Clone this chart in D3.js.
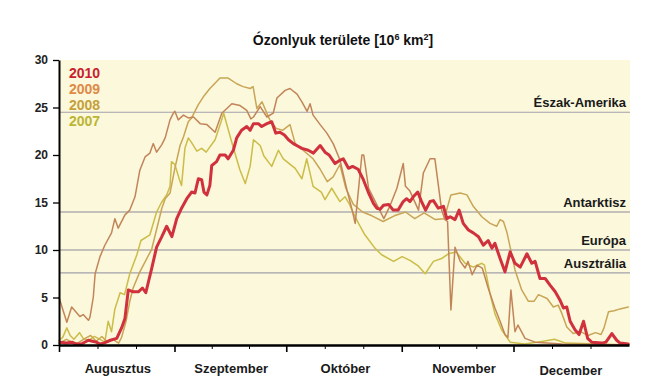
<!DOCTYPE html>
<html><head><meta charset="utf-8">
<script src="https://cdn.jsdelivr.net/npm/d3@7/dist/d3.min.js"></script>
<style>
html,body{margin:0;padding:0;background:#fff;}
svg{display:block;font-family:"Liberation Sans",Arial,Helvetica,sans-serif;}
</style></head><body>
<svg id="chart" width="671" height="383"></svg>
<script>
// ---- data (day index from 1 August, value in million km2) ----
const years = ["2010", "2009", "2008", "2007"];
const yearColors = ["#d0313d", "#c2855a", "#c9a556", "#cbbd48"];
const legendColors = ["#c8202f", "#df8a46", "#c6a03a", "#bcb534"];

const s2010 = [[0.3,0.3],[2,0.2],[3.5,0.3],[4.5,0.1],[6,0.1],[7.9,0.5],[9,0.4],[10,0.3],[11,0.1],[12,0.2],[13.8,0.5],[15.5,0.7],[16.8,1.8],[17.7,2.8],[18.6,5.8],[19.9,5.6],[21.3,5.6],[22.4,6.0],[23.3,5.5],[24.9,8.1],[26.2,10.3],[27.6,11.4],[28.9,12.5],[30.3,11.4],[31.6,13.3],[32.9,14.4],[34.3,15.4],[35.6,16.1],[36.5,16.0],[37.4,17.5],[38.3,17.4],[38.9,16.1],[39.7,15.8],[40.5,16.8],[41,18.9],[42.3,19.3],[43.2,20.0],[44.6,20.0],[45.4,19.6],[46.8,20.5],[47.7,21.8],[49,22.6],[50.4,23.0],[51.3,22.6],[52.2,23.3],[53.5,23.3],[54.4,23.0],[55.8,23.3],[57.1,23.5],[58.2,22.3],[59.3,22.4],[60.5,22.1],[61.6,21.6],[62.9,21.2],[63.8,21.0],[65.2,20.7],[66.9,20.5],[68.3,20.2],[70.1,21.0],[71.4,20.3],[72.5,20.0],[74.1,19.1],[75.2,19.4],[76.3,19.6],[77.7,18.6],[78.8,18.8],[80.3,18.5],[81.7,17.4],[83,16.1],[84.4,14.9],[85.3,14.4],[86.2,14.3],[87.1,14.7],[88.5,14.8],[89.7,14.2],[91,14.2],[92.4,15.1],[93.3,15.4],[94.2,15.1],[95.1,15.6],[96.3,16.1],[97.2,15.2],[98.4,14.2],[99.6,15.1],[100.5,15.2],[101.8,14.4],[103.2,14.6],[104.1,13.3],[105,13.5],[106.3,13.2],[107.4,14.2],[108.5,12.8],[109.9,12.1],[111.2,11.8],[112.6,11.4],[113.9,10.5],[114.4,10.7],[115.2,11.0],[116.2,10.2],[117,10.7],[118.4,9.1],[119.7,7.7],[121.1,9.8],[122.4,8.6],[123.8,8.2],[125.6,9.6],[126.9,8.6],[127.8,8.8],[129.1,7.0],[130.5,7.0],[131.8,6.3],[133.2,5.6],[134.5,4.7],[135.4,3.9],[136.3,4.0],[137.2,2.5],[138.5,1.6],[139.6,1.1],[140.8,2.5],[141.9,0.7],[143,0.3],[145.7,0.2],[146.8,0.3],[148.4,1.2],[149.7,0.5],[150.6,0.2],[152.8,0.1]];

const s2009 = [[0,5.0],[2.1,2.4],[3.4,4.0],[5.6,3.0],[6.5,3.2],[7.9,2.6],[8.3,2.9],[9.2,5.0],[9.7,7.5],[11,9.3],[12.3,10.5],[14.1,11.8],[15,13.3],[15.9,12.3],[17.7,13.7],[19,14.2],[20.4,15.6],[21.7,18.4],[23.1,19.8],[24.4,20.2],[25.3,21.2],[26.2,20.3],[27.6,21.1],[28.5,21.8],[29.8,23.7],[30.7,24.4],[31.1,24.6],[32,23.7],[33.4,24.2],[34.7,23.9],[36.1,24.0],[37.9,23.3],[39.7,23.2],[41.9,22.4],[43.7,24.4],[46.4,25.4],[48.6,25.2],[50.4,24.7],[51.5,23.8],[52.2,24.0],[54,25.1],[55.8,24.0],[57.5,24.4],[58.5,26.0],[60.7,26.8],[62,27.0],[63.9,26.4],[65.2,25.6],[66.6,24.6],[67.4,25.4],[68.2,24.2],[70.1,23.2],[71.9,22.3],[73.6,21.2],[75.4,19.5],[77.3,16.3],[78.7,14.2],[79.5,12.8],[81.3,20.0],[81.8,20.0],[83.1,16.5],[85.4,14.7],[87.2,13.3],[88.9,14.7],[90.7,16.5],[92.4,19.1],[93,16.7],[94.2,16.2],[96.5,14.2],[97.8,18.1],[99.6,19.6],[100.9,19.6],[102.7,14.2],[103.6,13.2],[104.3,13.0],[105.2,3.7],[106.3,10.3],[107.7,8.8],[109,8.1],[109.8,8.8],[110.9,7.4],[112.2,8.4],[113.6,8.1],[115.2,6.0],[117,3.9],[118.4,2.5],[119.7,1.1],[120.5,0.8],[121.3,5.8],[122.4,1.4],[123.2,2.1],[125.1,0.7],[127.8,0.3],[135,0.1],[152.8,0.0]];

const s2008 = [[0,0.2],[2,0.6],[3.5,0.3],[5,0.2],[7,0.7],[8.5,1.0],[10,0.4],[11.5,0.9],[13,0.3],[14.5,0.6],[16,0.2],[16.8,0.8],[18,2.5],[19,4.6],[19.9,6.0],[21.7,7.7],[24.9,10.1],[27.6,14.4],[28.5,15.4],[29.8,16.0],[31.1,18.6],[32.5,21.0],[33.4,21.9],[34.7,23.5],[35.6,23.9],[37.4,25.3],[38.7,26.1],[40.5,27.0],[42,27.6],[43.2,28.1],[45.4,28.1],[47.7,27.5],[49.4,27.2],[51.3,27.0],[52.1,27.2],[53.1,24.9],[54.5,25.6],[55.8,24.4],[56.6,23.7],[58.3,22.8],[60,22.6],[62,23.2],[63.4,21.2],[65.2,20.6],[68.2,19.6],[70.1,18.5],[72,17.2],[73.6,17.7],[75.4,19.0],[77,16.5],[79,14.8],[81.5,14.0],[84,13.6],[87,13.0],[90,13.6],[93,14.0],[95.5,13.3],[98,13.9],[101,13.2],[103.4,13.3],[105.2,15.8],[107.7,16.0],[109.5,15.8],[111.2,14.6],[113.5,13.5],[115.7,12.8],[117.5,12.5],[118.4,13.2],[119.3,13.0],[120.2,11.9],[121.1,10.3],[122.4,7.9],[124.2,5.8],[126,4.6],[127.5,4.6],[128.7,5.3],[131,4.9],[132.7,4.0],[134,4.2],[135,3.3],[136.3,1.9],[138,1.2],[140,1.4],[142,1.0],[144,1.3],[145.5,1.1],[146.3,1.8],[147.5,3.5],[149,3.6],[150.6,3.8],[152.8,4.0]];

const s2007 = [[0,0.5],[1,0.8],[2.1,1.8],[3,1.0],[4,0.6],[5.5,1.3],[6.5,0.7],[8,0.5],[9.5,0.9],[11,0.6],[12.3,0.3],[13.2,2.5],[14.1,1.4],[15,3.8],[16.4,5.5],[17.6,5.3],[19,7.5],[20.9,9.5],[22,11.0],[24.4,11.6],[26.2,14.0],[27.5,15.0],[28.9,15.8],[29.8,16.7],[30.2,19.3],[31.1,19.0],[32.5,17.2],[32.9,16.8],[33.8,20.7],[34.7,21.8],[35.6,21.3],[37,20.4],[38.3,20.7],[39.5,20.3],[41.9,21.6],[43.5,23.5],[44.2,24.4],[46.7,20.9],[48.5,18.5],[50,17.0],[51.3,18.8],[52.2,21.6],[54,21.0],[55,19.9],[57.1,18.8],[58.9,20.5],[60.2,19.6],[63.4,18.6],[65.2,17.5],[66.5,19.6],[68.2,16.7],[70.4,16.1],[71.4,15.3],[73.2,16.5],[75.4,15.1],[76.8,15.6],[78,14.8],[78.6,14.2],[80.4,12.8],[82.1,11.6],[84.8,10.2],[86.6,9.5],[89.8,8.8],[92.1,9.3],[94.2,8.9],[96.5,8.3],[98.3,7.5],[100.5,8.8],[102.7,9.1],[104.5,9.6],[106.6,9.8],[109,8.6],[111.2,8.2],[113.5,8.6],[114.2,8.4],[115.7,5.4],[117,3.3],[118.8,1.6],[121.1,0.3],[125,0.1],[130,0.4],[133,0.6],[136,0.2],[145,0.1],[152.8,0.0]];

const regionNames = ["Észak-Amerika", "Antarktisz", "Európa", "Ausztrália"];
const regionValues = [24.5, 14.0, 10.0, 7.6];
const yTicks = [0, 5, 10, 15, 20, 25, 30];
const monthNames = ["Augusztus", "Szeptember", "Október", "November", "December"];
const monthStarts = [0, 31, 61, 92, 122, 153];
const monthLabelDays = [15.8, 46.2, 76.9, 108.7, 137.4];

// ---- drawing ----
const svg = d3.select("#chart");
const x = d3.scaleLinear().domain([0, 153]).range([59, 629]);
const y = d3.scaleLinear().domain([0, 30]).range([345, 60]);

svg.append("rect").attr("x", x(0)).attr("y", y(30))
  .attr("width", x(153) - x(0) + 1).attr("height", y(0) - y(30))
  .attr("fill", "#fbf8db");

// reference lines
const refStyle = [
  {c: "#a3a0ab", w: 1.2}, {c: "#c4c1bb", w: 2}, {c: "#c4c1bb", w: 2}, {c: "#a3a0ab", w: 1.2}
];
regionValues.forEach((v, i) => {
  svg.append("line").attr("x1", x(0)).attr("x2", x(153) + 1)
    .attr("y1", y(v)).attr("y2", y(v))
    .attr("stroke", refStyle[i].c).attr("stroke-width", refStyle[i].w);
});

// series
const line = d3.line().x(d => x(d[0])).y(d => y(d[1]));
const series = [s2010, s2009, s2008, s2007];
[3, 2, 1, 0].forEach(i => {
  svg.append("path").datum(series[i]).attr("d", line)
    .attr("fill", "none").attr("stroke", yearColors[i])
    .attr("stroke-width", i === 0 ? 3 : 1.5)
    .attr("stroke-linejoin", "round").attr("stroke-linecap", "round");
});

// region labels
regionNames.forEach((n, i) => {
  svg.append("text").attr("x", 626).attr("y", y(regionValues[i]) - 5)
    .attr("text-anchor", "end").attr("font-size", 13).attr("font-weight", "bold")
    .attr("fill", "#1a1a1a").text(n);
});

// legend
years.forEach((t, i) => {
  svg.append("text").attr("x", 69).attr("y", 78 + i * 16)
    .attr("font-size", 14).attr("font-weight", "bold")
    .attr("fill", legendColors[i]).text(t);
});

// y axis
const yAxis = svg.append("g").attr("transform", `translate(${x(0)},0)`)
  .call(d3.axisLeft(y).tickValues(yTicks).tickSize(6).tickSizeOuter(0).tickPadding(5));
yAxis.select(".domain").attr("stroke", "#000").attr("stroke-width", 2);
yAxis.selectAll(".tick line").attr("stroke", "#000").attr("stroke-width", 1.3);
yAxis.selectAll(".tick text").attr("font-size", 12).attr("font-weight", "bold")
  .attr("fill", "#222").attr("font-family", "'Liberation Sans',Arial,sans-serif");

// x axis: minor ticks at thirds of months, major at month starts
const minorDays = [];
for (let m = 0; m < 5; m++) {
  const len = monthStarts[m + 1] - monthStarts[m];
  minorDays.push(monthStarts[m] + len / 3, monthStarts[m] + 2 * len / 3);
}
const xMinor = svg.append("g").attr("transform", `translate(0,${y(0)})`)
  .call(d3.axisBottom(x).tickValues(minorDays).tickSize(4).tickSizeOuter(0).tickFormat(""));
xMinor.select(".domain").remove();
xMinor.selectAll(".tick line").attr("stroke", "#000").attr("stroke-width", 1);

const xMajor = svg.append("g").attr("transform", `translate(0,${y(0)})`)
  .call(d3.axisBottom(x).tickValues(monthStarts.slice(0, 5)).tickSize(7).tickSizeOuter(0).tickFormat(""));
xMajor.select(".domain").attr("stroke", "#000").attr("stroke-width", 2.5);
xMajor.selectAll(".tick line").attr("stroke", "#000").attr("stroke-width", 1.6);

monthNames.forEach((n, i) => {
  svg.append("text").attr("x", x(monthLabelDays[i])).attr("y", i === 4 ? 375 : 373)
    .attr("text-anchor", "middle").attr("font-size", 13).attr("font-weight", "bold")
    .attr("fill", "#1a1a1a").text(n);
});

// title
const title = svg.append("text").attr("x", 343).attr("y", 45)
  .attr("text-anchor", "middle").attr("font-size", 14).attr("font-weight", "bold")
  .attr("fill", "#111");
title.append("tspan").text("Ózonlyuk területe [10");
title.append("tspan").attr("font-size", 9).attr("dy", -5).text("6");
title.append("tspan").attr("dy", 5).text(" km");
title.append("tspan").attr("font-size", 9).attr("dy", -5).text("2");
title.append("tspan").attr("dy", 5).text("]");
</script>
</body></html>
